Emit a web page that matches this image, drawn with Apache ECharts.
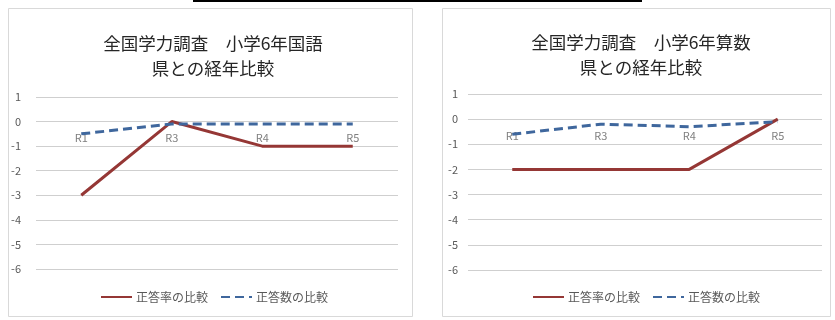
<!DOCTYPE html>
<html><head><meta charset="utf-8">
<script src="https://cdn.jsdelivr.net/npm/echarts@6/dist/echarts.min.js"></script>
<style>html,body{margin:0;padding:0;background:#fff}#c{width:835px;height:320px}</style>
</head><body><div id="c"></div>
<script>
const categories = ['R1', 'R3', 'R4', 'R5'];
const kokugoRate = [-3, 0, -1, -1];
const kokugoCount = [-0.5, -0.1, -0.1, -0.1];
const sansuRate = [-2, -2, -2, 0];
const sansuCount = [-0.6, -0.2, -0.3, -0.1];
const seriesNames = ['正答率の比較', '正答数の比較'];
const titles = ['全国学力調査\u3000小学6年国語\n県との経年比較', '全国学力調査\u3000小学6年算数\n県との経年比較'];
const yMin = -6, yMax = 1, yStep = 1;

const FONT = '"Noto Sans CJK JP", "Noto Sans", sans-serif';
const RED = '#953735', BLUE = '#3F679D';
const W = 835, H = 320;
const grids = [
  { left: 36, right: 437, top: 97, bottom: 51 },
  { left: 468, right: 13, top: 94, bottom: 50 }
];
const chart = echarts.init(document.getElementById('c'));

function xAxis(i) {
  const g = grids[i];
  const h = H - g.top - g.bottom;
  // category axis sits on the zero line of the value axis, as in the original
  const off = -h * (0 - yMin) / (yMax - yMin);
  return {
    type: 'category', gridIndex: i, data: categories, position: 'bottom', offset: off,
    axisLine: { show: false, onZero: false },
    axisTick: { show: false },
    axisLabel: { color: '#7f7f7f', fontSize: 11, fontFamily: FONT, margin: 11 }
  };
}
function yAxis(i, margin) {
  return {
    type: 'value', gridIndex: i, min: yMin, max: yMax, interval: yStep,
    axisLine: { show: false }, axisTick: { show: false },
    axisLabel: { color: '#595959', fontSize: 11, fontFamily: FONT, margin: margin },
    splitLine: { lineStyle: { color: '#cfcfcf', width: 1 } }
  };
}
function lineSeries(name, data, i, color, dashed) {
  return {
    type: 'line', name: name, data: data, xAxisIndex: i, yAxisIndex: i,
    symbol: 'none', animation: false, z: 5,
    lineStyle: { color: color, width: 3, type: dashed ? [9, 5] : 'solid' },
    itemStyle: { color: color }
  };
}
function legend(left) {
  return {
    data: seriesNames, left: left, top: 291, itemWidth: 31, itemHeight: 14, itemGap: 12,
    itemStyle: { color: 'transparent', borderWidth: 0, borderColor: 'transparent' },
    textStyle: { color: '#595959', fontSize: 12, fontFamily: FONT, padding: [0, 0, 0, -1] }, padding: 0
  };
}

chart.setOption({
  animation: false,
  graphic: [
    { type: 'rect', shape: { x: 8.5, y: 8.5, width: 404, height: 308 }, style: { fill: '#fff', stroke: '#d9d9d9', lineWidth: 1 }, z: -10 },
    { type: 'rect', shape: { x: 442.5, y: 8.5, width: 388, height: 308 }, style: { fill: '#fff', stroke: '#d9d9d9', lineWidth: 1 }, z: -10 },
    { type: 'line', shape: { x1: 193, y1: 1, x2: 642, y2: 1 }, style: { stroke: '#000', lineWidth: 2 }, z: 10 }
  ],
  title: [
    { text: titles[0], left: 208, top: 26, textAlign: 'center',
      textStyle: { fontSize: 17.5, fontWeight: 'normal', color: '#262626', fontFamily: FONT, lineHeight: 25 } },
    { text: titles[1], left: 636, top: 25, textAlign: 'center',
      textStyle: { fontSize: 17.5, fontWeight: 'normal', color: '#262626', fontFamily: FONT, lineHeight: 25 } }
  ],
  legend: [legend(100), legend(532)],
  grid: grids,
  xAxis: [xAxis(0), xAxis(1)],
  yAxis: [yAxis(0, 15), yAxis(1, 10)],
  series: [
    lineSeries(seriesNames[0], kokugoRate, 0, RED, false),
    lineSeries(seriesNames[1], kokugoCount, 0, BLUE, true),
    lineSeries(seriesNames[0], sansuRate, 1, RED, false),
    lineSeries(seriesNames[1], sansuCount, 1, BLUE, true)
  ]
});
</script></body></html>
